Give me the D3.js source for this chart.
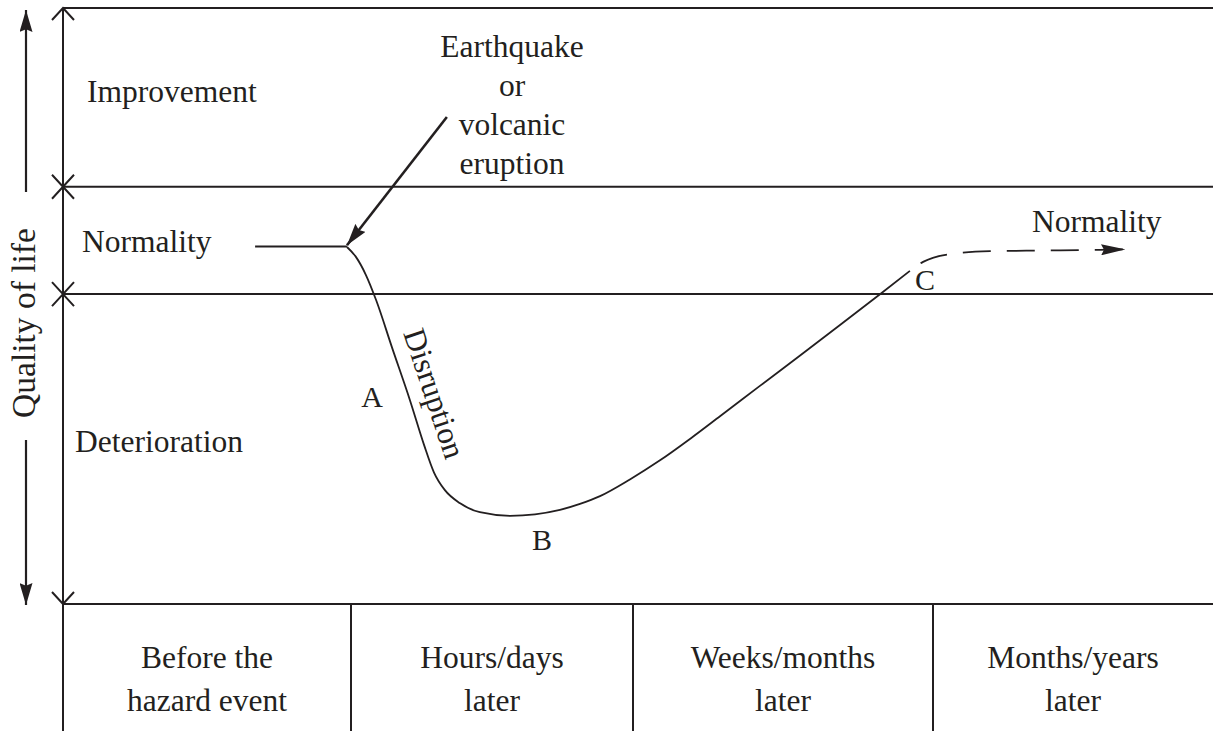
<!DOCTYPE html>
<html>
<head>
<meta charset="utf-8">
<script src="https://cdn.jsdelivr.net/npm/d3@7"></script>
<style>
  html, body { margin: 0; padding: 0; background: #fff; }
  svg { display: block; }
  text { font-family: "Liberation Serif", "Times New Roman", serif; fill: #231f20; }
</style>
</head>
<body>
<svg id="chart" width="1213" height="731"></svg>
<script>
// ---------------- data ----------------
// time axis in "phase units": each integer is a phase boundary
const phaseLabels = [
  ["Before the", "hazard event"],
  ["Hours/days", "later"],
  ["Weeks/months", "later"],
  ["Months/years", "later"]
];
const phaseBounds = [0, 1, 2, 3, 4];

// quality of life index bands
const bandNames = ["Deterioration", "Normality", "Improvement"];
const bandBounds = [0, 52, 70, 100];

// pre-event steady state
const preEventT = [0.667, 0.986];
const preEventQ = [60, 60];

// disruption and recovery curve (solid)
const curveT = [0.986, 1.018, 1.053, 1.089, 1.145, 1.209, 1.259, 1.294, 1.333, 1.387, 1.457, 1.564, 1.741, 1.812, 1.883, 1.989, 2.090, 2.190, 2.290, 2.423, 2.557, 2.690, 2.833, 2.923];
const curveQ = [59.9, 58.2, 55.2, 51.0, 43.1, 34.2, 26.7, 22.1, 19.1, 16.9, 15.4, 14.8, 15.8, 16.8, 18.1, 20.9, 24.1, 27.7, 31.5, 36.6, 41.7, 46.8, 52.35, 55.9];

// return to normality (dashed)
const recoveryT = [2.923, 2.967, 3.061, 3.204, 3.382, 3.561, 3.686];
const recoveryQ = [55.9, 57.4, 58.7, 59.2, 59.3, 59.4, 59.5];

// hazard event pointer
const eventT = [1.340, 0.986];
const eventQ = [81.7, 60.2];
const eventLabel = ["Earthquake", "or", "volcanic", "eruption"];

const pointLabels = ["A", "B", "C"];
const curveLabel = "Disruption";
const endLabel = "Normality";
const axisTitle = "Quality of life";

// ---------------- drawing ----------------
const ink = "#231f20";
const svg = d3.select("#chart");

const x = d3.scaleLinear().domain(phaseBounds).range([63, 351, 633, 933, 1213]);
const y = d3.scaleLinear().domain([0, 100]).range([604, 8]);

const defs = svg.append("defs");
function marker(id, len, wid) {
  defs.append("marker")
    .attr("id", id)
    .attr("markerUnits", "userSpaceOnUse")
    .attr("viewBox", `0 0 ${len} ${wid}`)
    .attr("refX", len).attr("refY", wid / 2)
    .attr("markerWidth", len).attr("markerHeight", wid)
    .attr("orient", "auto")
    .append("path")
    .attr("d", `M0,0 L${len},${wid / 2} L0,${wid} L${len * 0.12},${wid / 2} Z`)
    .attr("fill", ink);
}
marker("arrowBig", 22, 13);
marker("arrowAxis", 22, 13);
marker("arrowDash", 24, 11);

const frame = svg.append("g").attr("stroke", ink).attr("stroke-width", 2).attr("fill", "none");

// horizontal band lines
frame.selectAll("line.band").data(bandBounds).enter().append("line")
  .attr("x1", x(0)).attr("x2", x(4))
  .attr("y1", d => y(d)).attr("y2", d => y(d));

// vertical axis
frame.append("line").attr("x1", x(0)).attr("x2", x(0)).attr("y1", y(100)).attr("y2", 731);

// phase dividers
frame.selectAll("line.div").data(phaseBounds.slice(1, 4)).enter().append("line")
  .attr("x1", d => x(d)).attr("x2", d => x(d))
  .attr("y1", y(0)).attr("y2", 731);

// axis chevrons / crosses
const a = 11, b = 12;
frame.append("path").attr("d", `M${x(0) - a},${y(100) + b} L${x(0)},${y(100)} L${x(0) + a},${y(100) + b}`);
frame.append("path").attr("d", `M${x(0) - a},${y(0) - b} L${x(0)},${y(0)} L${x(0) + a},${y(0) - b}`);
bandBounds.slice(1, 3).forEach(v => {
  frame.append("path").attr("d",
    `M${x(0) - a},${y(v) - b} L${x(0) + a},${y(v) + b} M${x(0) - a},${y(v) + b} L${x(0) + a},${y(v) - b}`);
});

// outer "quality of life" arrows
const axX = 26;
svg.append("line").attr("x1", axX).attr("x2", axX).attr("y1", 192).attr("y2", y(100) + 2)
  .attr("stroke", ink).attr("stroke-width", 2.2).attr("marker-end", "url(#arrowAxis)");
svg.append("line").attr("x1", axX).attr("x2", axX).attr("y1", 440).attr("y2", y(0) + 1)
  .attr("stroke", ink).attr("stroke-width", 2.2).attr("marker-end", "url(#arrowAxis)");

svg.append("text")
  .attr("transform", `translate(35, ${323}) rotate(-90)`)
  .attr("text-anchor", "middle")
  .attr("font-size", 33.5)
  .text(axisTitle);

// band labels
const bandLabelPos = { "Improvement": [87, 102], "Normality": [82, 252], "Deterioration": [75, 452] };
svg.selectAll("text.band").data(bandNames).enter().append("text")
  .attr("x", d => bandLabelPos[d][0]).attr("y", d => bandLabelPos[d][1])
  .attr("font-size", 31.5)
  .text(d => d);

// phase labels
const pg = svg.selectAll("g.phase").data(phaseLabels).enter().append("g");
pg.each(function (lines, i) {
  const cx = (x(phaseBounds[i]) + x(phaseBounds[i + 1])) / 2;
  d3.select(this).selectAll("text").data(lines).enter().append("text")
    .attr("x", cx).attr("y", (d, j) => 668 + j * 43)
    .attr("text-anchor", "middle").attr("font-size", 31.5)
    .text(d => d);
});

// curves
const line = d3.line().x(d => x(d[0])).y(d => y(d[1]));
const lineSmooth = d3.line().x(d => x(d[0])).y(d => y(d[1])).curve(d3.curveMonotoneX);

svg.append("path").datum(d3.zip(preEventT, preEventQ))
  .attr("d", line).attr("fill", "none").attr("stroke", ink).attr("stroke-width", 2);

svg.append("path").datum(d3.zip(curveT, curveQ))
  .attr("d", lineSmooth).attr("fill", "none").attr("stroke", ink).attr("stroke-width", 1.8);

svg.append("path").datum(d3.zip(recoveryT, recoveryQ))
  .attr("d", lineSmooth).attr("fill", "none").attr("stroke", ink).attr("stroke-width", 1.8)
  .attr("stroke-dasharray", "28 16").attr("stroke-dashoffset", 31)
  .attr("marker-end", "url(#arrowDash)");

// event pointer
const ev = d3.zip(eventT, eventQ);
svg.append("line")
  .attr("x1", x(ev[0][0])).attr("y1", y(ev[0][1]))
  .attr("x2", x(ev[1][0])).attr("y2", y(ev[1][1]))
  .attr("stroke", ink).attr("stroke-width", 2.6).attr("marker-end", "url(#arrowBig)");

svg.append("g").selectAll("text").data(eventLabel).enter().append("text")
  .attr("x", 512).attr("y", (d, i) => 57 + i * 39)
  .attr("text-anchor", "middle").attr("font-size", 31.5)
  .text(d => d);

// point labels
const ptPos = { "A": [372, 407], "B": [542, 550], "C": [925, 290] };
svg.selectAll("text.pt").data(pointLabels).enter().append("text")
  .attr("x", d => ptPos[d][0]).attr("y", d => ptPos[d][1])
  .attr("text-anchor", "middle").attr("font-size", 30)
  .text(d => d);

svg.append("text")
  .attr("transform", "translate(403, 333) rotate(71.5)")
  .attr("font-size", 31.5)
  .text(curveLabel);

svg.append("text")
  .attr("x", 1032).attr("y", 232)
  .attr("font-size", 31.5)
  .text(endLabel);
</script>
</body>
</html>
